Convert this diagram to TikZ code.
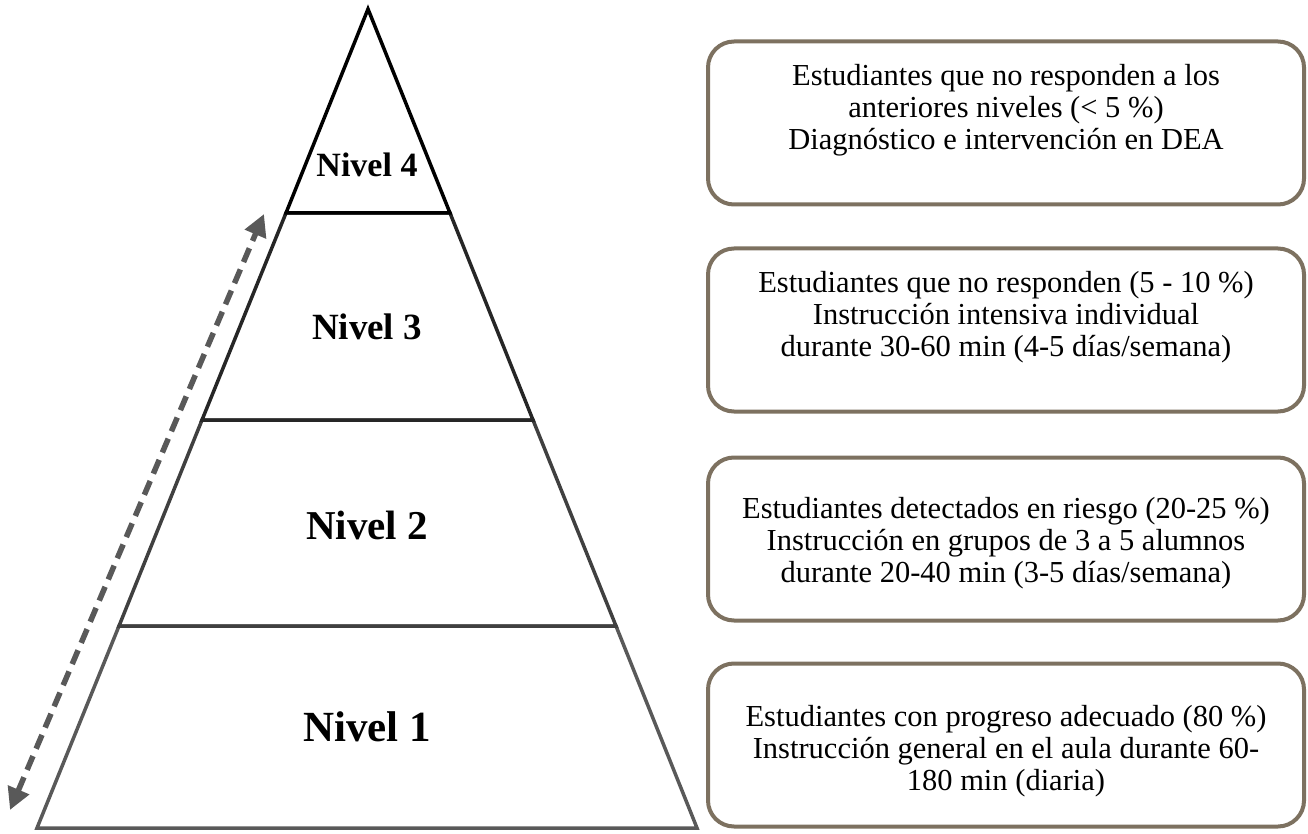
\documentclass[tikz,border=0pt]{standalone}
\usepackage{fontspec}
\setmainfont{Liberation Serif}
\usetikzlibrary{arrows.meta}
\definecolor{boxline}{RGB}{125,113,96}
\definecolor{arrowgray}{RGB}{89,89,89}
\definecolor{lvlA}{RGB}{0,0,0}
\definecolor{lvlB}{RGB}{38,38,38}
\definecolor{lvlC}{RGB}{64,64,64}
\definecolor{lvlD}{RGB}{89,89,89}
\tikzset{
  band/.style={line width=3.5pt, line join=miter},
  infobox/.style={draw=boxline, line width=4pt, rounded corners=26pt, minimum width=596pt, minimum height=163pt, inner sep=0pt},
  infotext/.style={align=center, font=\fontsize{30.5}{32}\selectfont, inner sep=0pt},
  lvltext/.style={font=\bfseries, inner sep=0pt},
  dasharrow/.style={draw=arrowgray, line width=5.5pt, dash pattern=on 15pt off 8pt, {Triangle[length=22pt,width=22pt]}-{Triangle[length=22pt,width=22pt]}}
}
\begin{document}
\begin{tikzpicture}[x=1pt,y=-1pt]
\useasboundingbox (0,0) rectangle (1308,834);
% pyramid vertices
\coordinate (A) at (368,9);
\coordinate (L1) at (286,213); \coordinate (R1) at (450,213);
\coordinate (L2) at (202,420); \coordinate (R2) at (533,420);
\coordinate (L3) at (119,626); \coordinate (R3) at (616,626);
\coordinate (L4) at (37,828);  \coordinate (R4) at (697,828);
% bands
\draw[band, draw=lvlD] (L3) -- (R3) -- (R4) -- (L4) -- cycle;
\draw[band, draw=lvlC] (L2) -- (R2) -- (R3) -- (L3) -- cycle;
\draw[band, draw=lvlB] (L1) -- (R1) -- (R2) -- (L2) -- cycle;
\draw[band, draw=lvlA] (A) -- (R1) -- (L1) -- cycle;
% level labels
\node[lvltext, font=\bfseries\fontsize{34}{40}\selectfont] (n4) at (367,165) {Nivel 4};
\node[lvltext, font=\bfseries\fontsize{37}{44}\selectfont] (n3) at (367,327) {Nivel 3};
\node[lvltext, font=\bfseries\fontsize{41}{48}\selectfont] (n2) at (367,525) {Nivel 2};
\node[lvltext, font=\bfseries\fontsize{43}{50}\selectfont] (n1) at (367,727) {Nivel 1};
% dashed double arrow
\coordinate (arB) at (10,810);
\coordinate (arT) at (264,214);
\draw[dasharrow] (arB) -- (arT);
% boxes
\node[infobox] (b1) at (1006,123) {};
\node[infobox] (b2) at (1006,330) {};
\node[infobox] (b3) at (1006,539) {};
\node[infobox] (b4) at (1006,745) {};
\node[infotext] (t1) at (1006,110) {Estudiantes que no responden a los\\anteriores niveles (< 5 \%)\\Diagnóstico e intervención en DEA};
\node[infotext] (t2) at (1006,317) {Estudiantes que no responden (5 - 10 \%)\\Instrucción intensiva individual\\durante 30-60 min (4-5 días/semana)};
\node[infotext] (t3) at (1006,543) {Estudiantes detectados en riesgo (20-25 \%)\\Instrucción en grupos de 3 a 5 alumnos\\durante 20-40 min (3-5 días/semana)};
\node[infotext] (t4) at (1006,751) {Estudiantes con progreso adecuado (80 \%)\\Instrucción general en el aula durante 60-\\180 min (diaria)};
\end{tikzpicture}
\end{document}
